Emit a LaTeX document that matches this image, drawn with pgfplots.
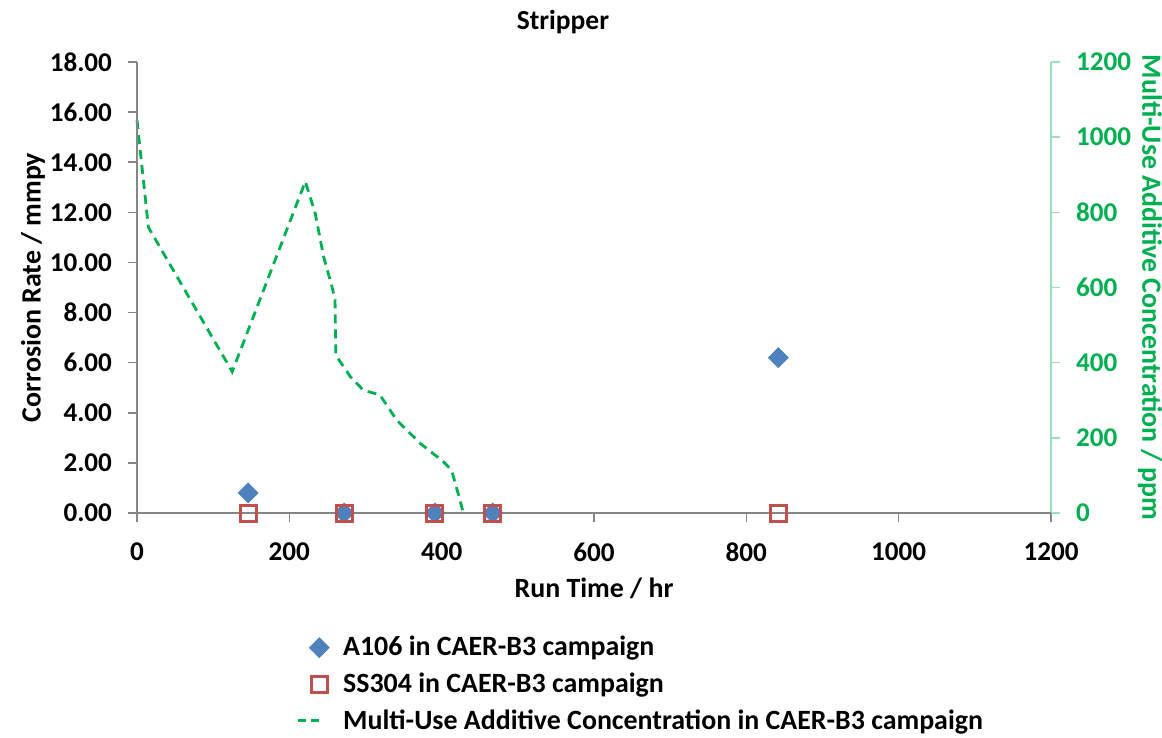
\documentclass[border=0pt]{standalone}
\usepackage{fontspec}
\setmainfont{Carlito}
\usepackage{pgfplots}
\pgfplotsset{compat=1.18}
\definecolor{ablue}{HTML}{4F81BD}
\definecolor{ared}{HTML}{C0504D}
\definecolor{agreen}{HTML}{00B050}
\definecolor{agray}{HTML}{868686}
\pgfplotsset{mylegline/.style={legend image code/.code={\draw[##1] (-0.07cm,0cm) -- (0.32cm,0cm);}}}

\begin{document}
\begin{tikzpicture}[font=\bfseries\fontsize{14}{16}\selectfont]
\pgfplotsset{
  base/.style={scale only axis, width=457bp, height=225.5bp,
    xmin=0, xmax=1200, xtick={0,200,...,1200},
    tick label style={font=\bfseries\fontsize{13.6}{15}\selectfont},
    /pgf/number format/assume math mode=true,
    tick align=outside, major tick length=4.5bp,
    clip=false},
}
\begin{axis}[base, axis y line*=right, axis x line=none,
  ymin=0, ymax=1200, ytick={0,200,...,1200},
  y axis line style={agreen!40, line width=0.8bp},
  ytick style={agreen!40, line width=0.8bp},
  yticklabel style={text=agreen, xshift=4.5bp, /pgf/number format/.cd, fixed, 1000 sep={}},
  ylabel={Multi-Use Additive Concentration / ppm},
  ylabel style={text=agreen, at={(1.1083,0.5)}, anchor=center, rotate=180}]
\addplot[agreen, line width=1.4bp, dash pattern=on 4.5bp off 3bp] coordinates {
(0,1045) (15,760) (125,376) (221,882) (234,797) (245,682) (256,602) (260,567)
(261,420) (280,363) (297,327) (319,314) (341,247) (372,185) (402,137) (413,114)
(424,35) (428,3)};
\end{axis}
\begin{axis}[base, axis y line*=left, axis x line*=bottom,
  ymin=0, ymax=18, ytick={0,2,...,18},
  yticklabel style={xshift=-4.5bp, /pgf/number format/.cd, fixed, fixed zerofill, precision=2},
  xticklabel style={yshift=-7bp, /pgf/number format/.cd, fixed, 1000 sep={}},
  axis line style={agray, line width=0.8bp},
  tick style={agray, line width=0.8bp},
  title={Stripper},
  title style={at={(0.466,1.0687)}, anchor=base, yshift=-5bp, font=\bfseries\fontsize{13.8}{15}\selectfont},
  xlabel={Run Time / hr},
  xlabel style={at={(0.5,-0.1663)}, anchor=center},
  ylabel={Corrosion Rate / mmpy},
  ylabel style={at={(-0.1138,0.5)}, anchor=center},
  legend style={at={(0.168,-0.255)}, anchor=north west, draw=none, fill=none,
    font=\bfseries\fontsize{14}{16}\selectfont, row sep=3bp, column sep=5bp},
  legend cell align=left]
\coordinate (sw) at (rel axis cs:0,0);
\coordinate (ne) at (rel axis cs:1,1);
\addplot[only marks, mark=square*, mark size=3.5bp, mark options={rotate=45, fill=ablue, draw=ablue}] coordinates {
(146,0.8) (272,0) (391,0) (467,0) (842,6.2)};
\addlegendentry{A106 in CAER-B3 campaign}
\addplot[only marks, mark=square, mark size=4bp, mark options={draw=ared, line width=1.5bp}] coordinates {
(146,0) (272,0) (391,0) (467,0) (842,0)};
\addlegendentry{SS304 in CAER-B3 campaign}
\addlegendimage{agreen, line width=1.4bp, dash pattern=on 4bp off 2.5bp, mylegline}
\addlegendentry{Multi-Use Additive Concentration in CAER-B3 campaign}
\end{axis}
\pgfresetboundingbox
\path[use as bounding box] ([shift={(-68.5bp,-112.5bp)}]sw) rectangle ([shift={(55.5bp,31bp)}]ne);
\end{tikzpicture}
\end{document}
